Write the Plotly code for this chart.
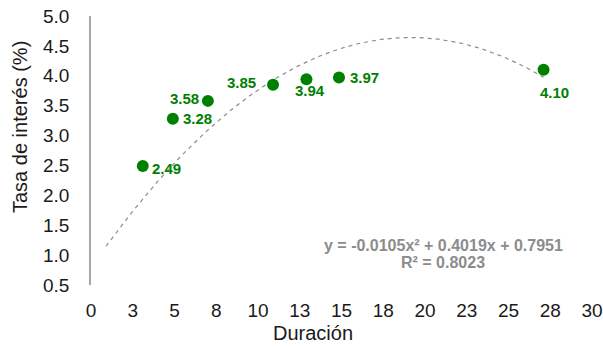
import numpy as np
import plotly.graph_objects as go

# Data
duracion = [3.1, 4.9, 7.0, 10.9, 12.9, 14.85, 27.1]
tasa = [2.49, 3.28, 3.58, 3.85, 3.94, 3.97, 4.10]
etiquetas = ["2.49", "3.28", "3.58", "3.85", "3.94", "3.97", "4.10"]
# label offsets (pixels) relative to each point: (dx, dy up)
desplaz = [(24, -2), (25, 0), (-23, 2), (-32, 2), (4, -11), (26, 0), (11, -23)]

# Polynomial trendline (order 2) as displayed
coef = [-0.0105, 0.4019, 0.7951]
r2 = 0.8023
trend_range = [0.9, 27.1]
eq_line1 = "y = -0.0105x² + 0.4019x + 0.7951"
eq_line2 = "R² = 0.8023"

x_tickvals = [0, 2.5, 5, 7.5, 10, 12.5, 15, 17.5, 20, 22.5, 25, 27.5, 30]
x_ticktext = ["0", "3", "5", "8", "10", "13", "15", "18", "20", "23", "25", "28", "30"]
y_tickvals = [0.5, 1.0, 1.5, 2.0, 2.5, 3.0, 3.5, 4.0, 4.5, 5.0]

xt = np.linspace(trend_range[0], trend_range[1], 200)
yt = np.polyval(coef, xt)

FONT = "Liberation Sans, Arial, sans-serif"
green = "#008000"
W, H = 603, 348
L, R, T, B = 91, 11, 16, 63
PW, PH = W - L - R, H - T - B

def px(xp):
    return (xp - L) / PW

def py(yp):
    return (H - B - yp) / PH

fig = go.Figure()
fig.add_trace(go.Scatter(
    x=xt, y=yt, mode="lines",
    line=dict(color="#8c8c8c", width=1.2, dash="4px,4px"),
    hoverinfo="skip", showlegend=False))
fig.add_trace(go.Scatter(
    x=duracion, y=tasa, mode="markers",
    marker=dict(color=green, size=12),
    showlegend=False))

for xv, yv, lab, (dx, dy) in zip(duracion, tasa, etiquetas, desplaz):
    fig.add_annotation(
        x=xv, y=yv, xref="x", yref="y", xshift=dx, yshift=dy,
        xanchor="center", yanchor="middle", text="<b>" + lab + "</b>",
        showarrow=False, font=dict(family=FONT, size=15, color=green))

for txt, yy in [(eq_line1, 245), (eq_line2, 262)]:
    fig.add_annotation(
        x=px(443), y=py(yy), xref="paper", yref="paper",
        xanchor="center", yanchor="middle",
        text="<b>" + txt + "</b>", showarrow=False,
        font=dict(family=FONT, size=16, color="#8c8c8c"))

# x axis title
fig.add_annotation(
    x=px(313), y=py(333), xref="paper", yref="paper",
    xanchor="center", yanchor="middle", text="Duración", showarrow=False,
    font=dict(family=FONT, size=20, color="#1a1a1a"))
# y axis title
fig.add_annotation(
    x=px(20), y=py(127), xref="paper", yref="paper",
    xanchor="center", yanchor="middle", text="Tasa de interés (%)", showarrow=False,
    textangle=-90, font=dict(family=FONT, size=20, color="#1a1a1a"))

fig.update_layout(
    width=W, height=H,
    margin=dict(l=L, r=R, t=T, b=B, autoexpand=False),
    plot_bgcolor="white", paper_bgcolor="white",
    font=dict(family=FONT, size=19, color="#1a1a1a"),
    xaxis=dict(
        range=[0, 30], tickvals=x_tickvals, ticktext=x_ticktext,
        showgrid=False, zeroline=False, showline=False, ticks="",
        automargin=False, ticklabelstandoff=12,
        tickfont=dict(size=19)),
    yaxis=dict(
        range=[0.5, 5.0], tickvals=y_tickvals, tickformat=".1f",
        showgrid=False, zeroline=False, showline=True, linecolor="#a6a6a6", linewidth=1.5,
        ticks="", automargin=False, ticklabelstandoff=16,
        tickfont=dict(size=19)),
)

fig.write_html("out.html", config={"displayModeBar": False},
               post_script="document.body.style.margin='0';document.body.style.overflow='hidden';")
